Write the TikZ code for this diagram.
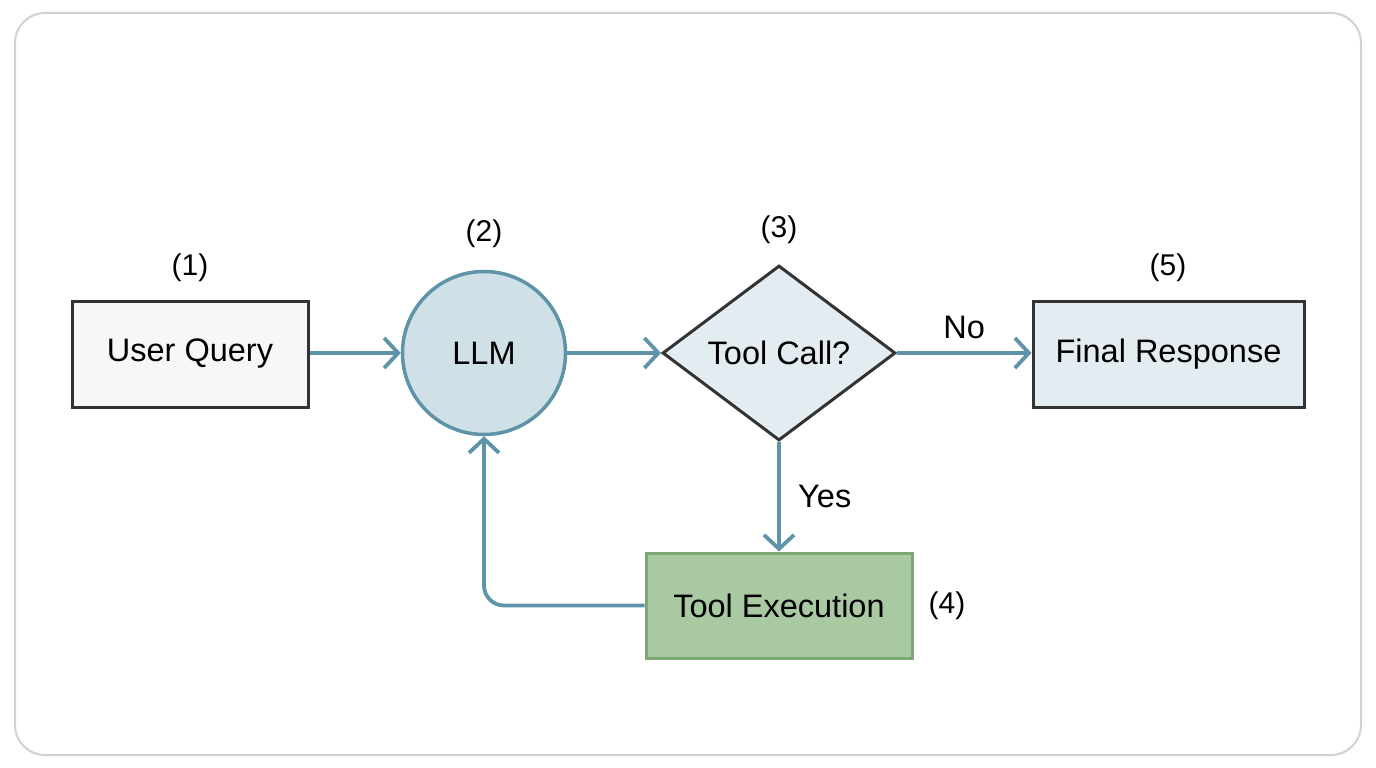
\documentclass[tikz,border=0pt]{standalone}
\usepackage{fontspec}
\setmainfont{Liberation Sans}
\usetikzlibrary{shapes.geometric,arrows.meta}
\definecolor{arrowc}{HTML}{5E93A8}
\definecolor{darkline}{HTML}{333333}
\definecolor{qfill}{HTML}{F6F8F8}
\definecolor{llmfill}{HTML}{CFE0E7}
\definecolor{dfill}{HTML}{E3ECF0}
\definecolor{gfill}{HTML}{A9C9A2}
\definecolor{gline}{HTML}{7BA875}
\definecolor{frame}{HTML}{D2D2D2}
\tikzset{
  lbl/.style={font=\fontsize{32.5}{38}\selectfont, text=black},
  num/.style={font=\fontsize{30}{34}\selectfont, text=black},
  boxstyle/.style={rectangle, draw=darkline, line width=3pt, inner sep=0pt, lbl},
  conn/.style={draw=arrowc, line width=3.8pt, -{Straight Barb[length=14pt,width=30pt,line width=3.8pt]}},
}
\begin{document}
\begin{tikzpicture}[x=1pt,y=-1pt]
\useasboundingbox (0,0) rectangle (1376,768);
\fill[white] (0,0) rectangle (1376,768);
\draw[frame, line width=2pt, rounded corners=30pt] (15,13) rectangle (1361,755);

\node[boxstyle, fill=qfill, minimum width=236pt, minimum height=106pt] (uq) at (190,354) {User Query};
\node[circle, draw=arrowc, fill=llmfill, line width=3.5pt, minimum size=163pt, inner sep=0pt, lbl] (llm) at (484,353) {LLM};
\node[diamond, draw=darkline, fill=dfill, line width=3pt, minimum width=233pt, minimum height=175pt, inner sep=0pt, lbl] (dec) at (779,353) {Tool Call?};
\node[boxstyle, fill=dfill, minimum width=271pt, minimum height=106pt] (fr) at (1168.5,354) {Final Response};
\node[rectangle, draw=gline, fill=gfill, line width=3pt, minimum width=266pt, minimum height=105pt, inner sep=0pt, lbl] (te) at (779,605.5) {Tool Execution};

\node[num] (n1) at (190,268) {(1)};
\node[num] (n2) at (484,234) {(2)};
\node[num] (n3) at (779,230) {(3)};
\node[num] (n4) at (947,606) {(4)};
\node[num] (n5) at (1168,268) {(5)};

\draw[conn] (uq.east |- llm.center) -- (llm.west);
\draw[conn] (llm.east) -- (dec.west);
\draw[conn] (dec.east) -- node[lbl, above=9pt] (no) {No} (fr.west |- dec.east);
\draw[conn] (dec.south) -- node[lbl, right=14pt] (yes) {Yes} (te.north);
\draw[conn, rounded corners=20pt] (te.west) -| (llm.south);
\end{tikzpicture}
\end{document}
